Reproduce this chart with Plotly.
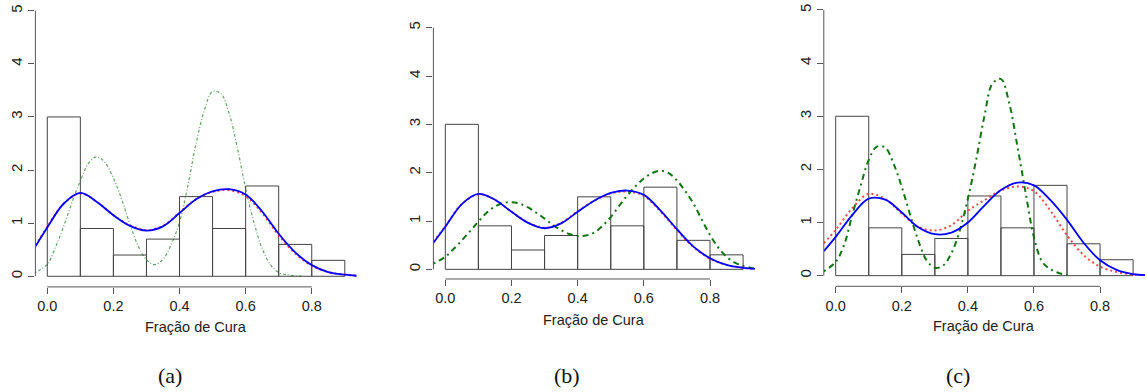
import plotly.graph_objects as go

# ---------------- data ----------------
bin_centers = [0.05, 0.15, 0.25, 0.35, 0.45, 0.55, 0.65, 0.75, 0.85]
hist_density = [3.0, 0.9, 0.4, 0.7, 1.5, 0.9, 1.7, 0.6, 0.3]

x_coarse = [-0.036, 0.0, 0.05, 0.1, 0.15, 0.2, 0.25, 0.3, 0.35, 0.4, 0.45,
            0.5, 0.55, 0.6, 0.65, 0.7, 0.75, 0.8, 0.85, 0.9, 0.936]
x_fine = [-0.036, 0.0, 0.025, 0.05, 0.075, 0.1, 0.125, 0.15, 0.175, 0.2,
          0.225, 0.25, 0.275, 0.3, 0.325, 0.35, 0.375, 0.4, 0.425, 0.45,
          0.475, 0.5, 0.525, 0.55, 0.575, 0.6, 0.625, 0.65, 0.675, 0.7,
          0.725, 0.75, 0.775, 0.8, 0.825, 0.85, 0.875, 0.9, 0.925, 0.936]

blue_a = [0.56, 0.92, 1.37, 1.57, 1.40, 1.15, 0.95, 0.86, 0.94, 1.19, 1.45,
          1.60, 1.64, 1.54, 1.22, 0.80, 0.45, 0.21, 0.08, 0.03, 0.01]
red_a = [0.58, 0.93, 1.37, 1.56, 1.40, 1.15, 0.96, 0.87, 0.95, 1.20, 1.45,
         1.59, 1.62, 1.51, 1.19, 0.77, 0.43, 0.20, 0.08, 0.03, 0.01]
green_a = [0.07, 0.23, 0.55, 0.95, 1.40, 1.80, 2.13, 2.25, 2.14, 1.85,
           1.45, 0.98, 0.57, 0.31, 0.22, 0.32, 0.60, 1.02, 1.70, 2.50,
           3.12, 3.48, 3.44, 3.07, 2.42, 1.65, 1.02, 0.52, 0.22, 0.07,
           0.03, 0.01, 0.0, None, None, None, None, None, None, None]

blue_b = [0.55, 0.88, 1.35, 1.56, 1.44, 1.19, 0.96, 0.85, 0.95, 1.19, 1.42,
          1.58, 1.63, 1.54, 1.22, 0.83, 0.47, 0.23, 0.09, 0.03, 0.01]
red_b = [0.57, 0.89, 1.35, 1.55, 1.44, 1.19, 0.97, 0.86, 0.96, 1.20, 1.42,
         1.57, 1.61, 1.52, 1.20, 0.81, 0.46, 0.22, 0.09, 0.03, 0.01]
green_b = [0.12, 0.26, 0.42, 0.60, 0.79, 0.99, 1.17, 1.30, 1.37, 1.39,
           1.36, 1.28, 1.17, 1.05, 0.92, 0.81, 0.73, 0.69, 0.70, 0.76,
           0.90, 1.08, 1.31, 1.53, 1.72, 1.88, 1.99, 2.04, 1.99, 1.84,
           1.62, 1.36, 1.03, 0.71, 0.45, 0.26, 0.14, 0.07, 0.03, 0.02]

blue_c = [0.46, 0.73, 1.14, 1.45, 1.43, 1.19, 0.91, 0.78, 0.81, 1.00, 1.32,
          1.61, 1.75, 1.70, 1.42, 1.05, 0.62, 0.29, 0.11, 0.03, 0.01]
red_c = [0.61, 0.86, 1.27, 1.54, 1.44, 1.17, 0.92, 0.85, 0.95, 1.22, 1.42,
         1.60, 1.68, 1.59, 1.22, 0.76, 0.39, 0.17, 0.07, 0.02, 0.01]
green_c = [0.08, 0.26, 0.57, 1.14, 1.68, 2.18, 2.43, 2.41, 2.11, 1.67,
           1.15, 0.66, 0.29, 0.15, 0.19, 0.42, 0.84, 1.45, 2.18, 3.00,
           3.62, 3.70, 3.25, 2.43, 1.55, 0.72, 0.26, 0.12, 0.05, 0.01,
           None, None, None, None, None, None, None, None, None, None]

x_tick_vals = [0.0, 0.2, 0.4, 0.6, 0.8]
x_tick_text = ["0.0", "0.2", "0.4", "0.6", "0.8"]
y_tick_vals = [0, 1, 2, 3, 4, 5]
y_tick_text = ["0", "1", "2", "3", "4", "5"]
x_title = "Fração de Cura"
panel_labels = ["(a)", "(b)", "(c)"]

# ---------------- layout geometry ----------------
W, H = 1147, 392
panels = [
    dict(xd=[0.03086, 0.31099], yd=[0.26811, 0.99980], yr=[-0.2, 5.2],
         blue=blue_a, red=red_a, green=green_a, gstyle="a",
         title_y=1 - 326.7 / H, lab_x=170 / W),
    dict(xd=[0.37786, 0.65824], yd=[0.28827, 0.95408], yr=[-0.2, 5.2],
         blue=blue_b, red=red_b, green=green_b, gstyle="bc",
         title_y=1 - 319.5 / H, lab_x=566.7 / W),
    dict(xd=[0.71822, 0.99826], yd=[0.26964, 1.0], yr=[-0.2, 5.188],
         blue=blue_c, red=red_c, green=green_c, gstyle="bc",
         title_y=1 - 326.3 / H, lab_x=958 / W),
]

AX = "#555555"
TXT = "#222222"
SANS = "Liberation Sans, Arial, sans-serif"

fig = go.Figure()
shapes = []
annotations = []
layout_axes = {}

for i, p in enumerate(panels):
    n = "" if i == 0 else str(i + 1)
    xa, ya = "x" + n, "y" + n
    # histogram bars
    fig.add_trace(go.Bar(
        x=bin_centers, y=hist_density, width=0.1, xaxis=xa, yaxis=ya,
        marker=dict(color="rgba(0,0,0,0)", line=dict(color="#444444", width=1)),
        showlegend=False, hoverinfo="skip"))
    # red dotted
    fig.add_trace(go.Scatter(
        x=x_coarse, y=p["red"], mode="lines", xaxis=xa, yaxis=ya,
        line=dict(color="rgba(255,40,40,0.85)", width=2, dash="2px,3px",
                  shape="spline", smoothing=1.0),
        showlegend=False, hoverinfo="skip"))
    # green
    if p["gstyle"] == "a":
        gline = dict(color="rgba(30,125,30,0.7)", width=1.2,
                     dash="1px,2px,3px,2px", shape="spline", smoothing=1.0)
    else:
        gline = dict(color="#127512", width=2, dash="2px,4px,6px,4px",
                     shape="spline", smoothing=1.0)
    fig.add_trace(go.Scatter(
        x=x_fine, y=p["green"], mode="lines", xaxis=xa, yaxis=ya,
        line=gline, connectgaps=False, showlegend=False, hoverinfo="skip"))
    # blue solid
    fig.add_trace(go.Scatter(
        x=x_coarse, y=p["blue"], mode="lines", xaxis=xa, yaxis=ya,
        line=dict(color="#0000ff", width=1.8, shape="spline", smoothing=1.0),
        showlegend=False, hoverinfo="skip"))

    layout_axes["xaxis" + n] = dict(
        domain=p["xd"], range=[-0.036, 0.936], anchor=ya,
        showgrid=False, zeroline=False, showline=False,
        tickmode="array", tickvals=x_tick_vals, ticktext=x_tick_text,
        ticks="outside", ticklen=6, tickwidth=1, tickcolor=AX,
        ticklabelstandoff=0,
        tickfont=dict(family=SANS, size=14.5, color=TXT), fixedrange=True)
    layout_axes["yaxis" + n] = dict(
        domain=p["yd"], range=p["yr"], anchor=xa,
        showgrid=False, zeroline=False, showline=False,
        tickmode="array", tickvals=y_tick_vals, ticktext=y_tick_text,
        ticks="outside", ticklen=6, tickwidth=1, tickcolor=AX,
        tickangle=-90, ticklabelstandoff=0,
        tickfont=dict(family=SANS, size=15, color=TXT), fixedrange=True)

    # partial axis lines (R style: from first to last tick)
    shapes.append(dict(type="line", xref=xa, yref=ya + " domain",
                       x0=x_tick_vals[0], x1=x_tick_vals[-1], y0=0, y1=0,
                       line=dict(color=AX, width=1)))
    shapes.append(dict(type="line", xref=xa + " domain", yref=ya,
                       x0=0, x1=0, y0=y_tick_vals[0], y1=y_tick_vals[-1],
                       line=dict(color=AX, width=1)))

    xc = (p["xd"][0] + p["xd"][1]) / 2
    annotations.append(dict(text=x_title, xref="paper", yref="paper",
                            x=xc, y=p["title_y"], xanchor="center",
                            yanchor="middle", showarrow=False,
                            font=dict(family=SANS, size=14.5, color=TXT)))
    annotations.append(dict(text=panel_labels[i], xref="paper", yref="paper",
                            x=p["lab_x"], y=1 - 375 / H, xanchor="center",
                            yanchor="middle", showarrow=False,
                            font=dict(family="Liberation Serif, Times New Roman, serif",
                                      size=22, color="#111111")))

fig.update_layout(
    width=W, height=H, margin=dict(l=0, r=0, t=0, b=0),
    paper_bgcolor="white", plot_bgcolor="white",
    shapes=shapes, annotations=annotations, showlegend=False,
    **layout_axes)

fig.write_html("out.html",
               config={"displayModeBar": False},
               post_script="document.body.style.margin='0';"
                           "document.body.style.padding='0';"
                           "document.body.style.overflow='hidden';")
